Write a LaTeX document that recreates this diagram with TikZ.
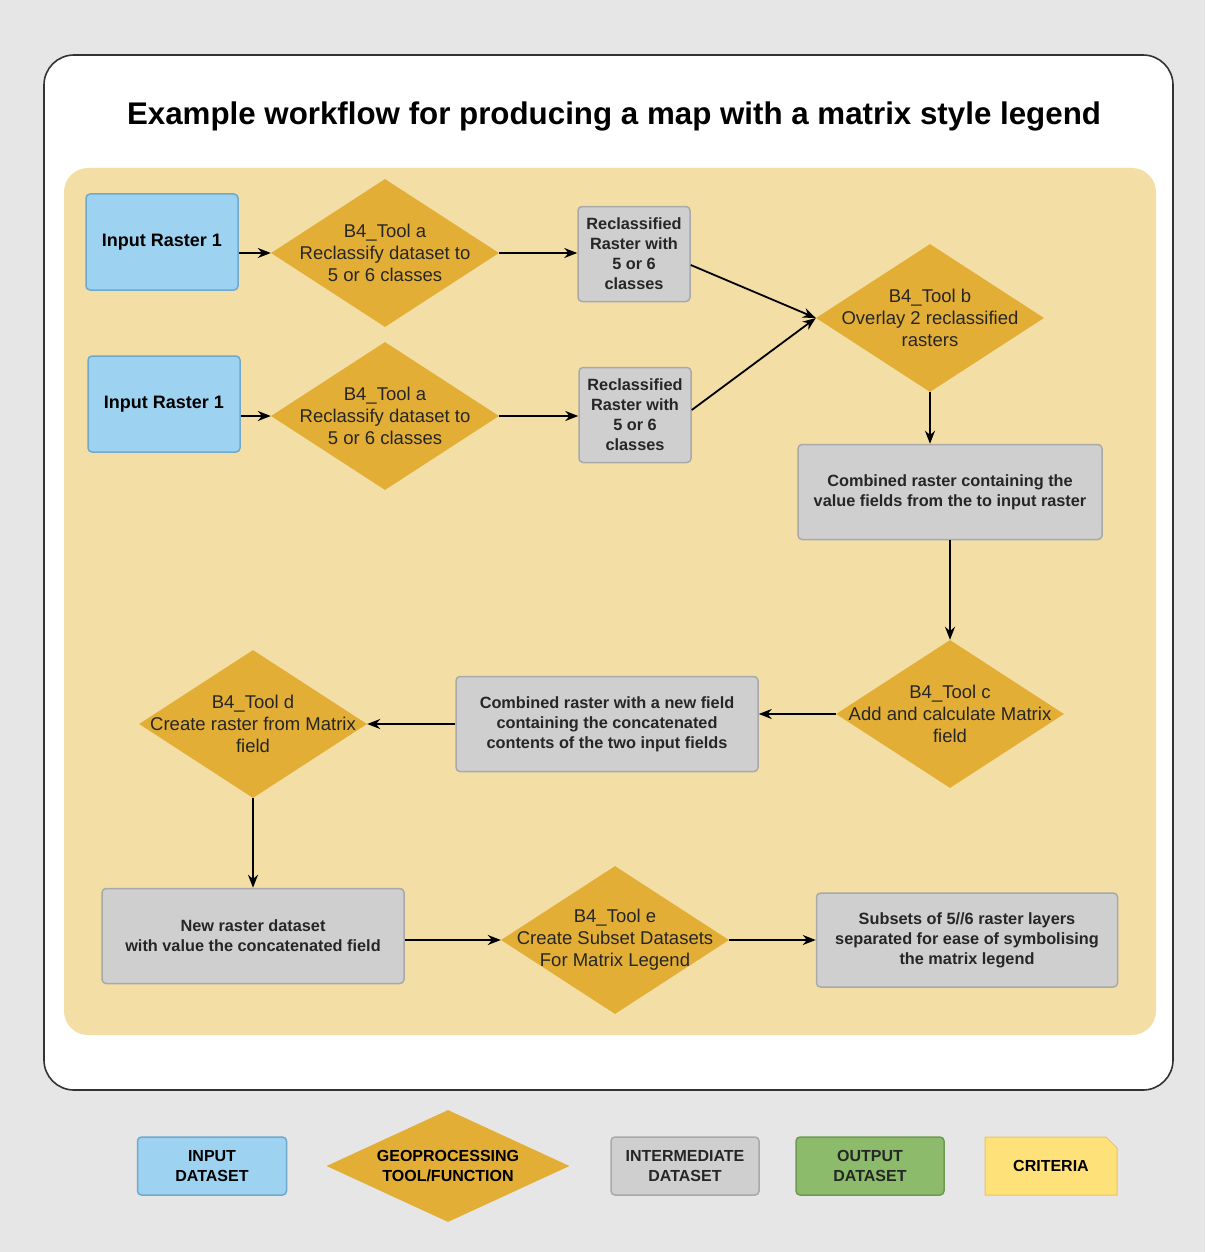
\documentclass[tikz,border=0pt]{standalone}
\usepackage{fontspec}
\setmainfont{Liberation Sans}
\usetikzlibrary{shapes.geometric,arrows.meta}
\definecolor{bggray}{HTML}{E6E6E6}
\definecolor{panel}{HTML}{F3DFA6}
\definecolor{gold}{HTML}{E3AE35}
\definecolor{inblue}{HTML}{9DD3F1}
\definecolor{inblueline}{HTML}{6FA9CC}
\definecolor{midgray}{HTML}{CFCFCF}
\definecolor{midgrayline}{HTML}{A9A9A9}
\definecolor{outgreen}{HTML}{8CBB6C}
\definecolor{outgreenline}{HTML}{6F9A55}
\definecolor{crityellow}{HTML}{FFE17A}
\definecolor{crityellowline}{HTML}{E9C45E}
\begin{document}
\begin{tikzpicture}[x=1pt, y=-1pt, >={Stealth[length=13pt,width=10pt]},
  tool/.style={diamond, fill=gold, inner sep=0pt, minimum width=228pt, minimum height=148pt},
  tooltxt/.style={align=center, text=black!85, font=\fontsize{18.5}{22}\selectfont},
  inbox/.style={draw=inblueline, fill=inblue, line width=1.5pt, rounded corners=4pt, align=center,
    minimum width=152pt, minimum height=96pt, font=\bfseries\fontsize{18}{20}\selectfont},
  midbox/.style={draw=midgrayline, fill=midgray, line width=1.5pt, rounded corners=4pt, align=center,
    text=black!85, font=\bfseries\fontsize{16.3}{20}\selectfont},
  legtxt/.style={font=\bfseries\fontsize{16}{20}\selectfont, align=center},
  flow/.style={->, line width=1.8pt}]
\useasboundingbox (0,0) rectangle (1205,1252);
\fill[bggray] (0,0) rectangle (1205,1252);
\draw[fill=white, draw=black!80, line width=1.6pt, rounded corners=30pt] (44,55) rectangle (1173,1090);
\fill[panel, rounded corners=24pt] (64,168) rectangle (1156,1035);
\node[font=\bfseries\fontsize{31.3}{36}\selectfont] (title) at (614,116) {Example workflow for producing a map with a matrix style legend};

\node[inbox] (in1) at (162,242) {Input Raster 1};
\node[tool, label={[tooltxt]center:{B4\_Tool a\\Reclassify dataset to\\5 or 6 classes}}] (ta1) at (385,253) {};
\node[midbox, minimum width=112pt, minimum height=95pt] (rc1) at (634,254) {Reclassified\\Raster with\\5 or 6\\classes};
\node[inbox] (in2) at (164,404) {Input Raster 1};
\node[tool, label={[tooltxt]center:{B4\_Tool a\\Reclassify dataset to\\5 or 6 classes}}] (ta2) at (385,416) {};
\node[midbox, minimum width=112pt, minimum height=95pt] (rc2) at (635,415) {Reclassified\\Raster with\\5 or 6\\classes};
\node[tool, label={[tooltxt]center:{B4\_Tool b\\Overlay 2 reclassified\\rasters}}] (tb) at (930,318) {};
\node[midbox, minimum width=304pt, minimum height=95pt] (comb) at (950,492) {Combined raster containing the\\value fields from the to input raster};
\node[tool, label={[tooltxt]center:{B4\_Tool c\\Add and calculate Matrix\\field}}] (tc) at (950,714) {};
\node[midbox, minimum width=302pt, minimum height=95pt] (cf) at (607,724) {Combined raster with a new field\\containing the concatenated\\contents of the two input fields};
\node[tool, label={[tooltxt]center:{B4\_Tool d\\Create raster from Matrix\\field}}] (td) at (253,724) {};
\node[midbox, minimum width=302pt, minimum height=95pt] (nr) at (253,936) {New raster dataset\\with value the concatenated field};
\node[tool, label={[tooltxt]center:{B4\_Tool e\\Create Subset Datasets\\For Matrix Legend}}] (te) at (615,940) {};
\node[midbox, minimum width=301pt, minimum height=94pt] (sub) at (967,940) {Subsets of 5//6 raster layers\\separated for ease of symbolising\\the matrix legend};

\draw[flow] (in1.east |- ta1) -- (ta1.west);
\draw[flow] (in2.east |- ta2) -- (ta2.west);
\draw[flow] (ta1.east) -- (rc1.west |- ta1.east);
\draw[flow] (ta2.east) -- (rc2.west |- ta2.east);
\draw[flow] ([yshift=-11pt]rc1.east) -- (tb.west);
\draw[flow] ([yshift=5pt]rc2.east) -- (tb.west);
\draw[flow] (tb.south) -- (tb.south |- comb.north);
\draw[flow] (comb.south) -- (tc.north);
\draw[flow] (tc.west) -- (cf.east |- tc.west);
\draw[flow] (cf.west) -- (td.east);
\draw[flow] (td.south) -- (nr.north);
\draw[flow] (nr.east |- te.west) -- (te.west);
\draw[flow] (te.east) -- (sub.west);

% legend
\node[inbox, minimum width=149pt, minimum height=58pt, legtxt] (lin) at (212,1166) {INPUT\\DATASET};
\node[tool, minimum width=243pt, minimum height=112pt, label={[legtxt]center:{GEOPROCESSING\\TOOL/FUNCTION}}] (ltool) at (448,1166) {};
\node[midbox, minimum width=148pt, minimum height=58pt, legtxt] (lmid) at (685,1166) {INTERMEDIATE\\DATASET};
\node[midbox, draw=outgreenline, fill=outgreen, minimum width=148pt, minimum height=58pt, legtxt] (lout) at (870,1166) {OUTPUT\\DATASET};
\filldraw[fill=crityellow, draw=crityellowline, line width=1pt] (985,1137) -- (1106,1137) -- (1117,1148) -- (1117,1195) -- (985,1195) -- cycle;
\node[legtxt, minimum width=132pt, minimum height=58pt] (lcrit) at (1051,1166) {CRITERIA};
\end{tikzpicture}
\end{document}
